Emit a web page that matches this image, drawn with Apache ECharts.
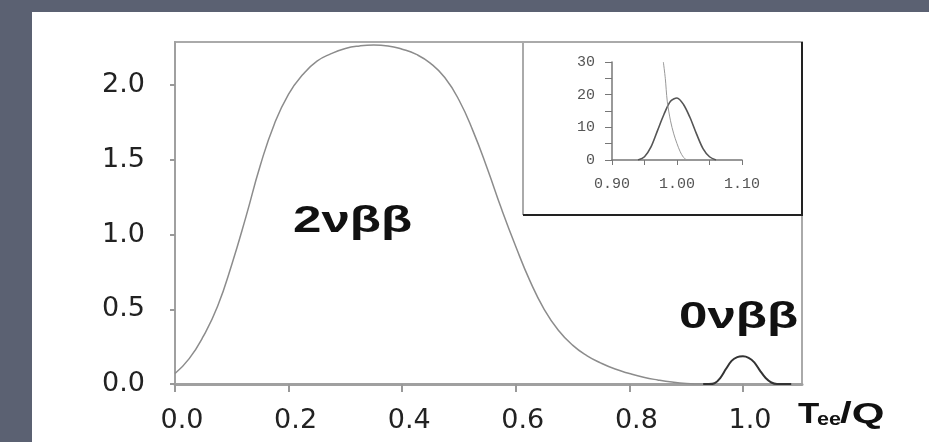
<!DOCTYPE html>
<html><head><meta charset="utf-8">
<script src="https://cdn.jsdelivr.net/npm/echarts@6/dist/echarts.min.js"></script>
<style>
html,body{margin:0;padding:0;background:#5b6172;overflow:hidden;}
#panel{position:absolute;left:32px;top:12px;width:897px;height:430px;background:#ffffff;}
#c{position:absolute;left:0;top:0;width:929px;height:442px;}
</style>
</head><body><div id="panel"></div><div id="c"></div>
<script>
// main axes tick labels
const xTicks = [0, 0.2, 0.4, 0.6, 0.8, 1.0];
const yTicks = [0, 0.5, 1.0, 1.5, 2.0];
// 2νββ continuous spectrum
const twoNuX = [0, 0.025, 0.05, 0.075, 0.1, 0.125, 0.15, 0.175, 0.2, 0.225, 0.25, 0.275, 0.3, 0.325, 0.35, 0.375, 0.4, 0.425, 0.45, 0.475, 0.5, 0.525, 0.55, 0.575, 0.6, 0.625, 0.65, 0.675, 0.7, 0.725, 0.75, 0.775, 0.8, 0.825, 0.85, 0.875, 0.9, 0.93];
const twoNuY = [0.07, 0.17, 0.32, 0.52, 0.80, 1.12, 1.46, 1.74, 1.94, 2.07, 2.16, 2.21, 2.245, 2.262, 2.268, 2.262, 2.24, 2.205, 2.145, 2.05, 1.90, 1.69, 1.44, 1.17, 0.92, 0.69, 0.50, 0.36, 0.26, 0.19, 0.14, 0.10, 0.07, 0.045, 0.027, 0.013, 0.004, 0];
// 0νββ peak
const zeroNuX = [0.93, 0.94, 0.95, 0.96, 0.97, 0.98, 0.99, 1.0, 1.01, 1.02, 1.03, 1.04, 1.05, 1.06, 1.085];
const zeroNuY = [0, 0, 0.005, 0.04, 0.10, 0.155, 0.18, 0.185, 0.175, 0.145, 0.09, 0.04, 0.01, 0, 0];
// inset
const insetXTicks = [0.90, 0.95, 1.00, 1.05, 1.10];
const insetXLabels = [0.90, 1.00, 1.10];
const insetYTicks = [0, 5, 10, 15, 20, 25, 30];
const insetYLabels = [0, 10, 20, 30];
const insetPeakX = [0.94, 0.95, 0.96, 0.97, 0.98, 0.99, 1.0, 1.01, 1.02, 1.03, 1.04, 1.05, 1.06];
const insetPeakY = [0, 1, 4, 9, 14, 18, 19, 17, 13, 8, 3.5, 1, 0];
const insetTailX = [0.979, 0.982, 0.985, 0.99, 0.995, 1.0, 1.005, 1.01, 1.015];
const insetTailY = [30, 25, 18, 12, 8, 5, 2.5, 0.8, 0];
const labelTwoNu = '2νββ';
const labelZeroNu = '0νββ';

const zip = (xs, ys) => xs.map((x, i) => [x, ys[i]]);
const chart = echarts.init(document.getElementById('c'), null, {renderer: 'canvas'});
const lblFont = {fontFamily: 'DejaVu Sans', fontSize: 27, color: '#222'};
const monoFont = {fontFamily: 'Liberation Mono', fontSize: 15, color: '#555'};

chart.setOption({
  animation: false,
  grid: [
    {left: 175, right: 127, top: 42, bottom: 58, show: true, borderColor: '#aaaaaa', borderWidth: 2},
    {left: 612, width: 130, top: 62, height: 98}
  ],
  xAxis: [
    {type: 'value', gridIndex: 0, min: 0, max: 1.104,
      axisLine: {show: true, lineStyle: {color: '#a0a0a0', width: 3}},
      axisTick: {show: true, customValues: xTicks, length: 8, lineStyle: {color: '#999', width: 2}},
      axisLabel: Object.assign({customValues: xTicks, margin: 23, padding: [0, 0, 0, 14], formatter: v => v.toFixed(1)}, lblFont),
      splitLine: {show: false}},
    {type: 'value', gridIndex: 1, min: 0.9, max: 1.1,
      axisLine: {show: true, lineStyle: {color: '#777', width: 1.5}},
      axisTick: {show: true, customValues: insetXTicks, length: 5, lineStyle: {color: '#777'}},
      axisLabel: Object.assign({customValues: insetXLabels, margin: 17, formatter: v => v.toFixed(2)}, monoFont),
      splitLine: {show: false}}
  ],
  yAxis: [
    {type: 'value', gridIndex: 0, min: 0, max: 2.288,
      axisLine: {show: true, lineStyle: {color: '#a0a0a0', width: 2}},
      axisTick: {show: true, customValues: yTicks, length: 5, lineStyle: {color: '#999', width: 2}},
      axisLabel: Object.assign({customValues: yTicks, margin: 30, formatter: v => v.toFixed(1)}, lblFont),
      splitLine: {show: false}},
    {type: 'value', gridIndex: 1, min: 0, max: 30,
      axisLine: {show: true, lineStyle: {color: '#777', width: 1.5}},
      axisTick: {show: true, customValues: insetYTicks, length: 7, lineStyle: {color: '#777'}},
      axisLabel: Object.assign({customValues: insetYLabels, margin: 17}, monoFont),
      splitLine: {show: false}}
  ],
  series: [
    {type: 'line', xAxisIndex: 0, yAxisIndex: 0, data: zip(twoNuX, twoNuY), showSymbol: false, smooth: 0.5,
      lineStyle: {color: '#8c8c8c', width: 1.5}},
    {type: 'line', xAxisIndex: 0, yAxisIndex: 0, data: zip(zeroNuX, zeroNuY), showSymbol: false, smooth: 0.3,
      lineStyle: {color: '#333', width: 2}},
    {type: 'line', xAxisIndex: 1, yAxisIndex: 1, data: zip(insetPeakX, insetPeakY), showSymbol: false, smooth: 0.3,
      lineStyle: {color: '#555', width: 1.6}},
    {type: 'line', xAxisIndex: 1, yAxisIndex: 1, data: zip(insetTailX, insetTailY), showSymbol: false, smooth: 0.3,
      lineStyle: {color: '#999', width: 1}}
  ],
  graphic: [
    {type: 'polyline', shape: {points: [[523, 215], [523, 42], [802, 42]]}, style: {stroke: '#aaa', lineWidth: 2, fill: null}},
    {type: 'polyline', shape: {points: [[523, 215], [802, 215], [802, 42]]}, style: {stroke: '#222', lineWidth: 2, fill: null}},
    {type: 'text', x: 293, y: 222, scaleX: 1.42, style: {text: labelTwoNu, font: 'bold 36px "Liberation Sans"', fill: '#111', textVerticalAlign: 'middle'}},
    {type: 'text', x: 679, y: 318, scaleX: 1.42, style: {text: labelZeroNu, font: 'bold 36px "Liberation Sans"', fill: '#111', textVerticalAlign: 'middle'}},
    {type: 'text', x: 798, y: 429, scaleX: 1.2, style: {text: 'T', font: 'bold 29px "Liberation Sans"', fill: '#111', textVerticalAlign: 'bottom'}},
    {type: 'text', x: 817, y: 429, scaleX: 1.2, style: {text: 'ee', font: 'bold 18px "Liberation Sans"', fill: '#111', textVerticalAlign: 'bottom'}},
    {type: 'text', x: 840, y: 429, scaleX: 1.45, style: {text: '/Q', font: 'bold 29px "Liberation Sans"', fill: '#111', textVerticalAlign: 'bottom'}}
  ]
});
</script>
</body></html>
